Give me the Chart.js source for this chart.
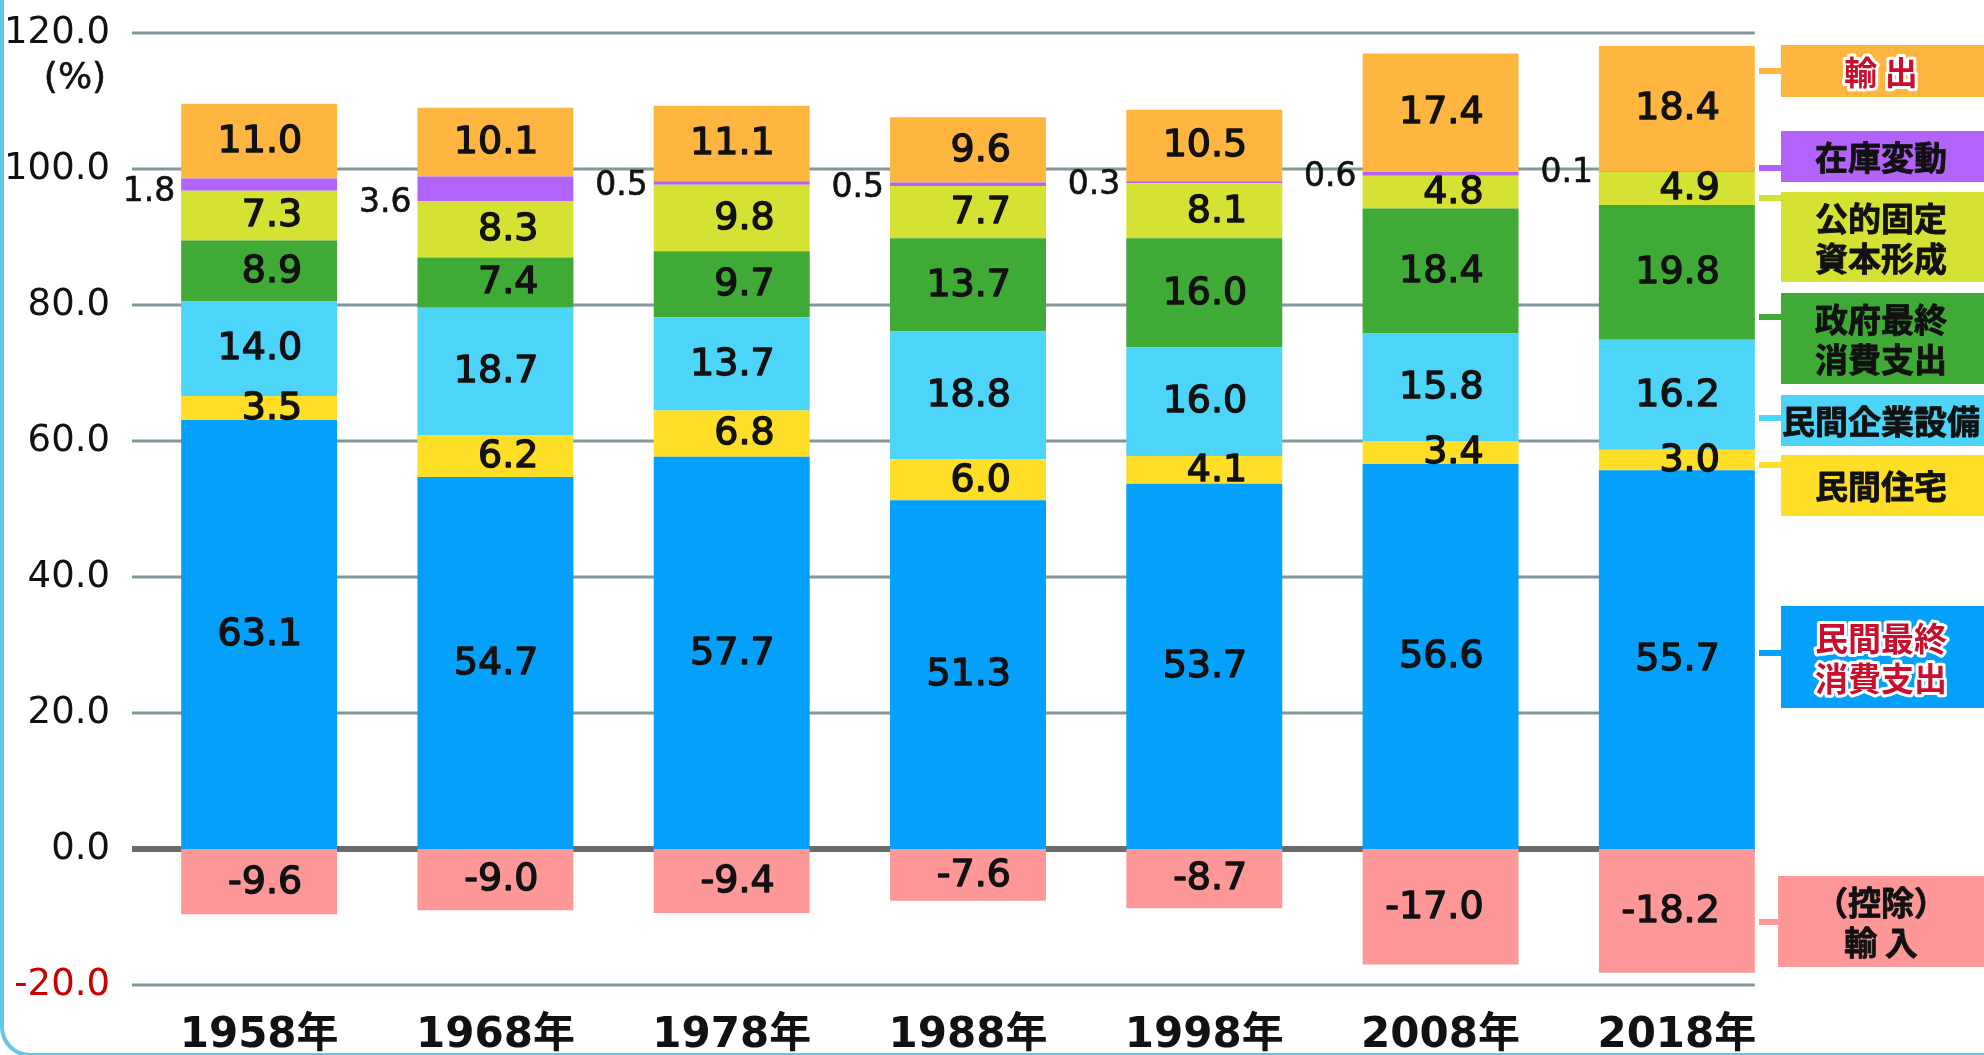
<!DOCTYPE html>
<html lang="ja">
<head>
<meta charset="utf-8">
<title>国内総支出の構成比</title>
<script src="https://cdn.jsdelivr.net/npm/chart.js@4.4.1/dist/chart.umd.min.js"></script>
<style>
  html, body { margin: 0; padding: 0; background: #fff; overflow: hidden; }
  #wrap { position: relative; width: 1984px; height: 1055px; }
  #frame {
    position: absolute; left: 0; top: -20px; width: 2000px; height: 1077px;
    box-sizing: border-box; border-left: 4px solid #62c6e6; border-bottom: 4px solid #62c6e6;
    border-bottom-left-radius: 30px; pointer-events: none;
  }
</style>
</head>
<body>
<div id="wrap">
  <canvas id="gdpChart"></canvas>
  <div id="frame"></div>
</div>
<script>
// 年次
const years = ['1958年', '1968年', '1978年', '1988年', '1998年', '2008年', '2018年'];

// 構成比 (%)
const privateConsumption = [63.1, 54.7, 57.7, 51.3, 53.7, 56.6, 55.7];
const privateHousing     = [3.5, 6.2, 6.8, 6.0, 4.1, 3.4, 3.0];
const privateInvestment  = [14.0, 18.7, 13.7, 18.8, 16.0, 15.8, 16.2];
const govConsumption     = [8.9, 7.4, 9.7, 13.7, 16.0, 18.4, 19.8];
const publicInvestment   = [7.3, 8.3, 9.8, 7.7, 8.1, 4.8, 4.9];
const inventoryChange    = [1.8, 3.6, 0.5, 0.5, 0.3, 0.6, 0.1];
const exportsShare       = [11.0, 10.1, 11.1, 9.6, 10.5, 17.4, 18.4];
const importsShare       = [-9.6, -9.0, -9.4, -7.6, -8.7, -17.0, -18.2];

// 目盛
const yMin = -20;
const yMax = 120;
const yStep = 20;

const INVENTORY = 5;
const NUM_FONT = '"DejaVu Sans", "Noto Sans CJK JP", sans-serif';
const JP_FONT = '"Noto Sans CJK JP", sans-serif';

// 右側の凡例ボックス (datasetの番号と配置)
const legendBoxes = [
    { ds: 6, lines: ['輸 出'], top: 45, bottom: 97, link: 71, red: true },
    { ds: 5, lines: ['在庫変動'], top: 131, bottom: 182, link: 168 },
    { ds: 4, lines: ['公的固定', '資本形成'], top: 192, bottom: 282, link: 198 },
    { ds: 3, lines: ['政府最終', '消費支出'], top: 293, bottom: 384, link: 317 },
    { ds: 2, lines: ['民間企業設備'], top: 395, bottom: 446, link: 418 },
    { ds: 1, lines: ['民間住宅'], top: 455, bottom: 516, link: 465 },
    { ds: 0, lines: ['民間最終', '消費支出'], top: 606, bottom: 708, link: 653, red: true },
    { ds: 7, lines: ['（控除）', '輸 入'], top: 876, bottom: 967, link: 922, left: 1778 }
];

const gridLines = {
    id: 'gridLines',
    beforeDatasetsDraw(chart) {
        const ctx = chart.ctx;
        const y = chart.scales.y;
        const meta = chart.getDatasetMeta(0);
        const last = meta.data[meta.data.length - 1];
        const right = last.x + last.width / 2;
        ctx.save();
        y.ticks.forEach(t => {
            const py = y.getPixelForValue(t.value);
            if (t.value === 0) {
                ctx.strokeStyle = '#686b6b';
                ctx.lineWidth = 6;
            } else {
                ctx.strokeStyle = '#82979b';
                ctx.lineWidth = 3;
            }
            ctx.beginPath();
            ctx.moveTo(132, py);
            ctx.lineTo(right, py);
            ctx.stroke();
        });
        ctx.restore();
    }
};

function boldText(ctx, txt, x, y, w) {
    ctx.lineWidth = w;
    ctx.strokeText(txt, x, y);
    ctx.fillText(txt, x, y);
}

const valueLabels = {
    id: 'valueLabels',
    afterDatasetsDraw(chart) {
        const ctx = chart.ctx;
        ctx.save();
        ctx.fillStyle = '#111';
        ctx.strokeStyle = '#111';
        ctx.lineJoin = 'round';
        ctx.textAlign = 'right';
        ctx.textBaseline = 'middle';
        chart.data.datasets.forEach((ds, di) => {
            const meta = chart.getDatasetMeta(di);
            meta.data.forEach((bar, i) => {
                const txt = ds.data[i].toFixed(1);
                if (di === INVENTORY) {
                    // 在庫変動は棒の左側に
                    ctx.font = '400 33px ' + NUM_FONT;
                    boldText(ctx, txt, bar.x - bar.width / 2 - 6, bar.base + 2, 0.6);
                } else {
                    ctx.font = '400 38px ' + NUM_FONT;
                    boldText(ctx, txt, bar.x + 43, (bar.y + bar.base) / 2 + 1, 1.4);
                }
            });
        });
        ctx.restore();
    }
};

const sideLegend = {
    id: 'sideLegend',
    afterDraw(chart) {
        const ctx = chart.ctx;
        ctx.save();

        // (%)
        ctx.fillStyle = '#111';
        ctx.strokeStyle = '#111';
        ctx.font = '400 36px ' + NUM_FONT;
        ctx.textAlign = 'center';
        ctx.textBaseline = 'middle';
        boldText(ctx, '(%)', 75, 79, 0.6);

        legendBoxes.forEach(item => {
            const color = chart.data.datasets[item.ds].backgroundColor;
            const left = item.left || 1781;
            ctx.fillStyle = color;
            ctx.fillRect(1759, item.link - 3, left - 1759, 6);
            ctx.fillRect(left, item.top, 1984 - left, item.bottom - item.top);

            ctx.font = '700 33px ' + JP_FONT;
            ctx.textAlign = 'center';
            ctx.textBaseline = 'middle';
            const mid = (item.top + item.bottom) / 2;
            const step = 40;
            item.lines.forEach((line, k) => {
                const ty = mid + (k - (item.lines.length - 1) / 2) * step + 1;
                if (item.red) {
                    ctx.lineJoin = 'round';
                    ctx.lineWidth = 6;
                    ctx.strokeStyle = '#fff';
                    ctx.strokeText(line, 1881, ty);
                    ctx.fillStyle = '#c8102e';
                    ctx.fillText(line, 1881, ty);
                } else {
                    ctx.fillStyle = '#111';
                    ctx.strokeStyle = '#111';
                    boldText(ctx, line, 1881, ty, 0.8);
                }
            });
        });
        ctx.restore();
    }
};

function makeSet(label, data, color) {
    return {
        label: label,
        data: data,
        backgroundColor: color,
        borderWidth: 0,
        barPercentage: 0.66,
        categoryPercentage: 1.0
    };
}

new Chart(document.getElementById('gdpChart'), {
    type: 'bar',
    data: {
        labels: years,
        datasets: [
            makeSet('民間最終消費支出', privateConsumption, '#05a0fa'),
            makeSet('民間住宅', privateHousing, '#fede26'),
            makeSet('民間企業設備', privateInvestment, '#4dd4f9'),
            makeSet('政府最終消費支出', govConsumption, '#3faa35'),
            makeSet('公的固定資本形成', publicInvestment, '#d5e233'),
            makeSet('在庫変動', inventoryChange, '#b264fa'),
            makeSet('輸出', exportsShare, '#ffb641'),
            makeSet('（控除）輸入', importsShare, '#fe9898')
        ]
    },
    options: {
        responsive: true,
        maintainAspectRatio: false,
        animation: false,
        layout: { padding: { top: 33, right: 189, left: 0, bottom: 0 } },
        plugins: {
            legend: { display: false },
            tooltip: { enabled: false }
        },
        scales: {
            x: {
                stacked: true,
                grid: { display: false },
                border: { display: false },
                ticks: {
                    color: '#111',
                    padding: 18,
                    font: { family: NUM_FONT, size: 42, weight: '700' }
                },
                afterFit(scale) { scale.height = 70; }
            },
            y: {
                stacked: true,
                min: yMin,
                max: yMax,
                grid: { display: false },
                border: { display: false },
                ticks: {
                    stepSize: yStep,
                    padding: 23,
                    callback: v => v.toFixed(1),
                    color: c => c.tick.value === yMin ? '#cc0000' : '#111',
                    font: { family: NUM_FONT, size: 37, weight: '400' }
                },
                afterFit(scale) {
                    scale.width = 141;
                    scale.paddingTop = 0;
                    scale.paddingBottom = 0;
                }
            }
        }
    },
    plugins: [gridLines, valueLabels, sideLegend]
});
</script>
</body>
</html>
